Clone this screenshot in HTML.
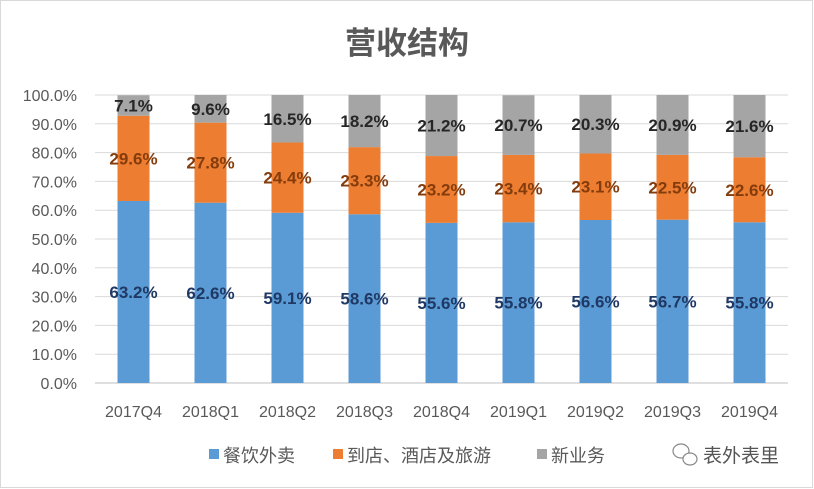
<!DOCTYPE html>
<html><head><meta charset="utf-8">
<style>
body{margin:0;background:#fff;}
#wrap{position:relative;width:814px;height:489px;overflow:hidden;font-family:"Liberation Sans","Noto Sans CJK SC",sans-serif;}
svg text{font-family:"Liberation Sans","Noto Sans CJK SC",sans-serif;}
</style></head>
<body>
<div id="wrap">
<svg id="chart" width="814" height="489">
  <rect x="0.5" y="0.5" width="812" height="487" fill="#fff" stroke="#d9d9d9"/>
  <text x="407" y="54" text-anchor="middle" font-size="31" font-weight="bold" fill="#595959">营收结构</text>
  <g id="grid"></g><g id="bars"></g><g id="labels"></g>
  <g>
    <rect x="209" y="449" width="10" height="10" fill="#5b9bd5"/>
    <text x="223" y="462" font-size="18" fill="#595959">餐饮外卖</text>
    <rect x="333" y="449" width="10" height="10" fill="#ed7d31"/>
    <text x="347" y="462" font-size="18" fill="#595959">到店、酒店及旅游</text>
    <rect x="537" y="449" width="10" height="10" fill="#a5a5a5"/>
    <text x="551" y="462" font-size="18" fill="#595959">新业务</text>
  </g>
  <g>
    <ellipse cx="681" cy="451" rx="8" ry="7" fill="none" stroke="#888" stroke-width="1.2"/>
    <ellipse cx="690" cy="459" rx="7" ry="6" fill="#fff" stroke="#888" stroke-width="1.2"/>
    <text x="703" y="462" font-size="19" fill="#555">表外表里</text>
  </g>
</svg>
</div>
<script>
const categories=["2017Q4","2018Q1","2018Q2","2018Q3","2018Q4","2019Q1","2019Q2","2019Q3","2019Q4"];
const foodValues=[63.2,62.6,59.1,58.6,55.6,55.8,56.6,56.7,55.8];
const hotelValues=[29.6,27.8,24.4,23.3,23.2,23.4,23.1,22.5,22.6];
const newValues=[7.1,9.6,16.5,18.2,21.2,20.7,20.3,20.9,21.6];
const yTicks=[0,10,20,30,40,50,60,70,80,90,100];

const NS="http://www.w3.org/2000/svg";
const x0=95,x1=788,y0=383,y1=95;
const band=(x1-x0)/categories.length, bw=32;
const yS=v=>y0-(v/100)*(y0-y1);
const xC=i=>x0+band*(i+0.5);
function mk(t,a,p){const e=document.createElementNS(NS,t);for(const k in a)e.setAttribute(k,a[k]);p.appendChild(e);return e;}
const grid=document.getElementById('grid'),bars=document.getElementById('bars'),labels=document.getElementById('labels');
yTicks.forEach(t=>{
  const y=yS(t);
  const l=mk('line',{x1:x0,x2:x1,y1:y,y2:y,stroke:t===0?'#bfbfbf':'#d9d9d9','stroke-width':1},grid);
  
  
  const tx=mk('text',{x:77,y:y+6,'text-anchor':'end','font-size':16,fill:'#595959'},grid);
  tx.textContent=t.toFixed(1)+'%';
  
  
});
const series=[[foodValues,'#5b9bd5','#1f3864','food'],[hotelValues,'#ed7d31','#843c0c','hotel'],[newValues,'#a5a5a5','#262626','new']];
categories.forEach((c,i)=>{
  let base=0;
  series.forEach(([vals,col,lc,nm])=>{
    const v=vals[i];
    const top=Math.min(base+v,100);
    const r=mk('rect',{x:xC(i)-bw/2,y:yS(top),width:bw,height:yS(base)-yS(top),fill:col},bars);
    
    
    const t=mk('text',{x:xC(i),y:(yS(base)+yS(top))/2+6,'text-anchor':'middle','font-size':17,'font-weight':'bold',fill:lc},labels);
    t.textContent=v.toFixed(1)+'%';
    
    
    base+=v;
  });
  const xt=mk('text',{x:xC(i),y:417,'text-anchor':'middle','font-size':16,fill:'#595959'},grid);
  xt.textContent=c;
  
  
});
</script>
</body></html>
